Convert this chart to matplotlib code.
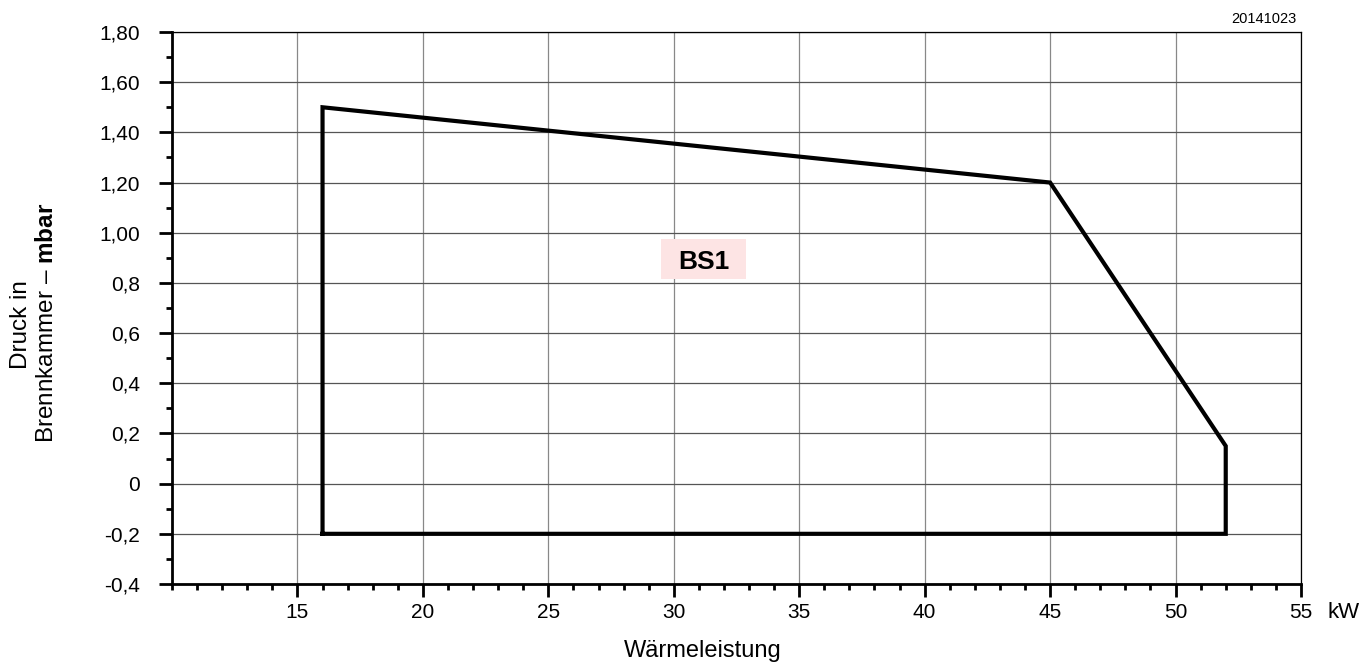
import matplotlib
matplotlib.use('Agg')
import matplotlib.pyplot as plt
import matplotlib.font_manager as fm
from matplotlib.patches import Rectangle
from matplotlib.ticker import MultipleLocator, FixedLocator

# field of operation (BS1)
power = [16, 16, 45, 52, 52, 16]               # kW
pressure = [-0.2, 1.5, 1.2, 0.15, -0.2, -0.2]  # mbar
area_name = 'BS1'
area_pos = (31.2, 0.894)

xticks = [15, 20, 25, 30, 35, 40, 45, 50, 55]
yticks = [-0.4, -0.2, 0, 0.2, 0.4, 0.6, 0.8, 1.0, 1.2, 1.4, 1.6, 1.8]
ylabels = ['-0,4', '-0,2', '0', '0,2', '0,4', '0,6', '0,8', '1,00', '1,20', '1,40', '1,60', '1,80']

names = {f.name for f in fm.fontManager.ttflist}
if 'Liberation Sans Narrow' in names:
    narrow, tsize = 'Liberation Sans Narrow', 16
else:
    narrow, tsize = 'Liberation Sans', 15

plt.rcParams['font.family'] = ['Liberation Sans', 'DejaVu Sans']
plt.rcParams['mathtext.fontset'] = 'custom'
plt.rcParams['mathtext.rm'] = 'Liberation Sans'
plt.rcParams['mathtext.bf'] = 'Liberation Sans:bold'

W, H = 1364, 663
fig = plt.figure(figsize=(W/100, H/100), dpi=100)
ax = fig.add_axes([172/W, 1-584/H, (1301-172)/W, (584-32)/H])

ax.set_xlim(10, 55)
ax.set_ylim(-0.4, 1.8)

ax.xaxis.set_major_locator(FixedLocator(xticks))
ax.xaxis.set_minor_locator(MultipleLocator(1))
ax.yaxis.set_major_locator(FixedLocator(yticks))
ax.yaxis.set_minor_locator(MultipleLocator(0.1))
ax.xaxis.grid(True, which='major', color='#888888', lw=0.9)
ax.yaxis.grid(True, which='major', color='#555555', lw=0.9)
ax.set_axisbelow(True)

ax.plot(power, pressure, color='black', lw=3.0, solid_joinstyle='miter', zorder=3)

# label box
bw, bh = 85/1129*45, 40/552*2.2
ax.add_patch(Rectangle((area_pos[0]-bw/2, area_pos[1]-bh/2), bw, bh,
                       fc='#fde4e4', ec='none', zorder=4))
ax.text(area_pos[0], area_pos[1], area_name, ha='center', va='center_baseline',
        fontsize=19, fontweight='bold', zorder=5)

ax.set_xticklabels([str(t) for t in xticks], family=narrow, fontsize=tsize)
ax.set_yticklabels(ylabels, family=narrow, fontsize=tsize)
ax.tick_params(axis='both', which='major', length=9.5, width=2, direction='out')
ax.tick_params(axis='x', which='major', pad=4)
ax.tick_params(axis='y', which='major', pad=13.5)
ax.tick_params(axis='both', which='minor', length=4.5, width=2, direction='out')

for s in ['left', 'bottom']:
    ax.spines[s].set_linewidth(2.0)
for s in ['top', 'right']:
    ax.spines[s].set_linewidth(0.9)

fig.text(1344/W, 1-618/H, 'kW', ha='center', va='baseline', fontsize=16)
fig.text(703/W, 1-657/H, 'Wärmeleistung', ha='center', va='baseline', fontsize=17)
fig.text(1296/W, 1-23/H, '20141023', ha='right', va='baseline', fontsize=10.5)
fig.text(27/W, 1-325/H, 'Druck in', ha='center', va='baseline', rotation=90,
         rotation_mode='anchor', fontsize=17.5)
fig.text(53/W, 1-323/H, r'Brennkammer – $\mathbf{mbar}$', ha='center', va='baseline',
         rotation=90, rotation_mode='anchor', fontsize=17.5)

fig.savefig('out.png', dpi=100)
